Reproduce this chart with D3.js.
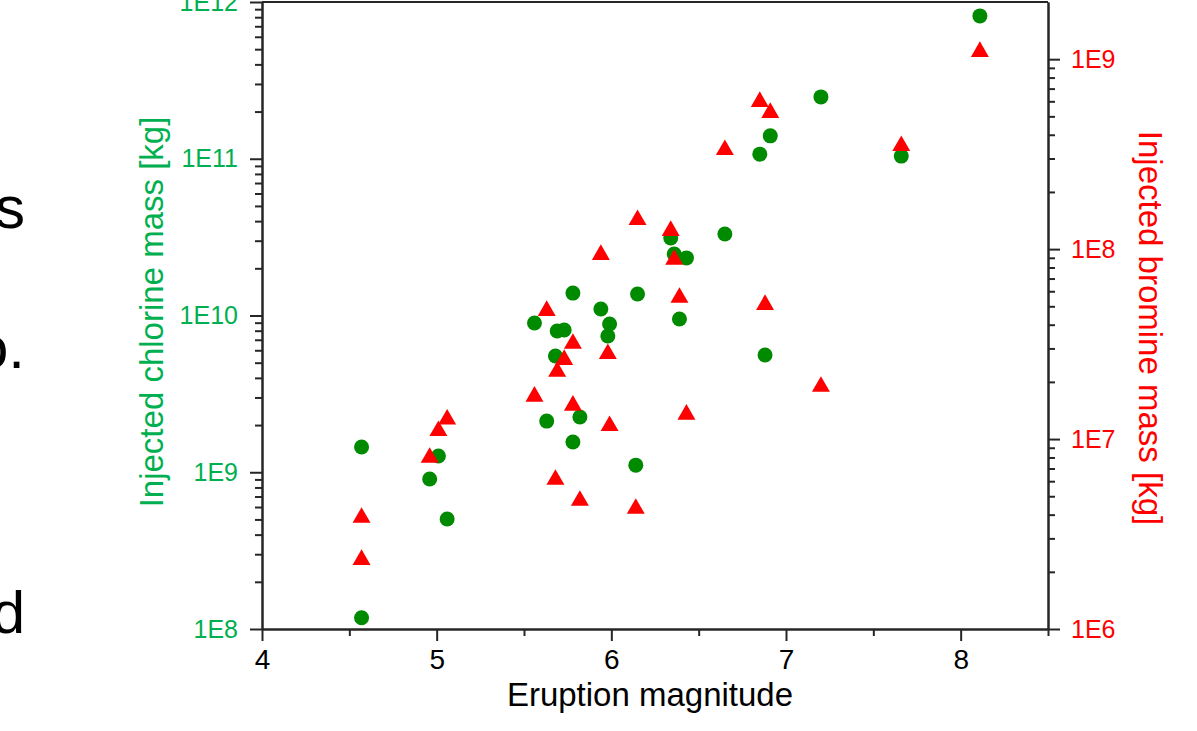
<!DOCTYPE html>
<html>
<head>
<meta charset="utf-8">
<script src="https://cdn.jsdelivr.net/npm/d3@7"></script>
<style>
  body { margin: 0; background: #fff; }
  svg { display: block; font-family: "Liberation Sans", Arial, sans-serif; }
</style>
</head>
<body>
<div id="chart"></div>
<script>
// eruption magnitude, injected Cl mass [kg], injected Br mass [kg]
const magnitude = [4.57, 4.57, 4.96, 5.01, 5.06, 5.56, 5.63, 5.68, 5.69, 5.73,
                   5.78, 5.78, 5.82, 5.94, 5.98, 5.99, 6.14, 6.15, 6.34, 6.36,
                   6.39, 6.43, 6.65, 6.85, 6.88, 6.91, 7.20, 7.66, 8.11];
const chlorine = [1.45e9, 1.18e8, 9.06e8, 1.27e9, 5.03e8, 8.96e9, 2.12e9, 5.52e9, 7.96e9, 8.08e9,
                  1.39e10, 1.56e9, 2.25e9, 1.10e10, 7.40e9, 8.83e9, 1.11e9, 1.37e10, 3.12e10, 2.47e10,
                  9.50e9, 2.33e10, 3.31e10, 1.07e11, 5.60e9, 1.40e11, 2.48e11, 1.04e11, 8.15e11];
const bromine = [3.98e6, 2.39e6, 8.24e6, 1.14e7, 1.31e7, 1.73e7, 4.89e7, 6.31e6, 2.34e7, 2.70e7,
                 3.28e7, 1.55e7, 4.89e6, 9.64e7, 2.90e7, 1.21e7, 4.44e6, 1.47e8, 1.29e8, 9.08e7,
                 5.73e7, 1.39e7, 3.44e8, 6.16e8, 5.26e7, 5.39e8, 1.95e7, 3.61e8, 1.13e9];

const xTicks = [4, 5, 6, 7, 8];
const xMinor = [4.5, 5.5, 6.5, 7.5, 8.5];
const clTicks = [1e8, 1e9, 1e10, 1e11, 1e12];
const brTicks = [1e6, 1e7, 1e8, 1e9];

const width = 1197, height = 731;
const plotLeft = 262, plotRight = 1048, plotTop = 2, plotBottom = 629;
const axisColor = "#262626";
const green = "#00b050", red = "#ff0000";

let svg = d3.select("#chart").append("svg")
    .attr("width", width)
    .attr("height", height);

let x = d3.scaleLinear().domain([4, 8.5]).range([plotLeft, plotRight]);
let yCl = d3.scaleLog().domain([1e8, 1e12]).range([plotBottom, plotTop]);
let yBr = d3.scaleLog().domain([1e6, 2e9]).range([plotBottom, plotTop]);

function expLabel(d) { return "1E" + Math.round(Math.log10(d)); }

// minor ticks 2..9 of every decade inside a domain
function minorTicks(scale) {
    let [lo, hi] = scale.domain();
    let out = [];
    for (let e = Math.floor(Math.log10(lo)); e < Math.ceil(Math.log10(hi)); e++) {
        for (let k = 2; k <= 9; k++) {
            let v = k * Math.pow(10, e);
            if (v > lo && v < hi) out.push(v);
        }
    }
    return out;
}

// cut-off body text of the surrounding page
const pageBits = [["s", 228], ["o.", 368], ["d", 633]];
svg.append("g").selectAll("text").data(pageBits).enter().append("text")
    .attr("x", 25)
    .attr("y", d => d[1])
    .style("text-anchor", "end")
    .style("font-size", "60px")
    .attr("fill", "#000")
    .text(d => d[0]);

// frame top
svg.append("line").attr("x1", plotLeft).attr("x2", plotRight)
    .attr("y1", plotTop).attr("y2", plotTop)
    .attr("stroke", axisColor).attr("stroke-width", 2);

function styleAxis(g, color, size) {
    g.select(".domain").attr("stroke", axisColor).attr("stroke-width", 2);
    g.selectAll(".tick line").attr("stroke", axisColor).attr("stroke-width", 2);
    g.selectAll(".tick text").attr("fill", color).style("font-size", size || "25px")
        .style("font-family", "'Liberation Sans', Arial, sans-serif");
}

// bottom axis
let xAxis = svg.append("g").attr("transform", `translate(0,${plotBottom})`)
    .call(d3.axisBottom(x).tickValues(xTicks).tickFormat(d3.format("d"))
        .tickSize(12).tickPadding(8).tickSizeOuter(0));
styleAxis(xAxis, "#000", "28px");
let xAxisMinor = svg.append("g").attr("transform", `translate(0,${plotBottom})`)
    .call(d3.axisBottom(x).tickValues(xMinor).tickFormat("").tickSize(7).tickSizeOuter(0));
styleAxis(xAxisMinor, "#000");

// left axis (chlorine)
let clAxis = svg.append("g").attr("transform", `translate(${plotLeft},0)`)
    .call(d3.axisLeft(yCl).tickValues(clTicks).tickFormat(expLabel)
        .tickSize(12).tickPadding(12).tickSizeOuter(0));
styleAxis(clAxis, green);
let clMinor = svg.append("g").attr("transform", `translate(${plotLeft},0)`)
    .call(d3.axisLeft(yCl).tickValues(minorTicks(yCl)).tickFormat("").tickSize(7).tickSizeOuter(0));
styleAxis(clMinor, green);

// right axis (bromine)
let brAxis = svg.append("g").attr("transform", `translate(${plotRight},0)`)
    .call(d3.axisRight(yBr).tickValues(brTicks).tickFormat(expLabel)
        .tickSize(12).tickPadding(11).tickSizeOuter(0));
styleAxis(brAxis, red);
let brMinor = svg.append("g").attr("transform", `translate(${plotRight},0)`)
    .call(d3.axisRight(yBr).tickValues(minorTicks(yBr)).tickFormat("").tickSize(7).tickSizeOuter(0));
styleAxis(brMinor, red);

// axis titles
svg.append("text")
    .attr("x", 650)
    .attr("y", 706)
    .style("text-anchor", "middle")
    .style("font-size", "33px")
    .attr("fill", "#000")
    .text("Eruption magnitude");

svg.append("text")
    .attr("transform", `translate(163,312) rotate(-90)`)
    .style("text-anchor", "middle")
    .style("font-size", "33px")
    .attr("fill", green)
    .text("Injected chlorine mass [kg]");

svg.append("text")
    .attr("transform", `translate(1139,328) rotate(90)`)
    .style("text-anchor", "middle")
    .style("font-size", "33px")
    .attr("fill", red)
    .text("Injected bromine mass [kg]");

// points
let idx = d3.range(magnitude.length);

svg.append("g").selectAll("circle").data(idx).enter().append("circle")
    .attr("cx", i => x(magnitude[i]))
    .attr("cy", i => yCl(chlorine[i]))
    .attr("r", 7.5)
    .attr("fill", "#008a00");

const triSize = 140;
const triShift = Math.sqrt(triSize / (3 * Math.sqrt(3))) / 2;
svg.append("g").selectAll("path").data(idx).enter().append("path")
    .attr("d", d3.symbol(d3.symbolTriangle, triSize))
    .attr("transform", i => `translate(${x(magnitude[i])},${yBr(bromine[i]) + triShift})`)
    .attr("fill", red);
</script>
</body>
</html>
